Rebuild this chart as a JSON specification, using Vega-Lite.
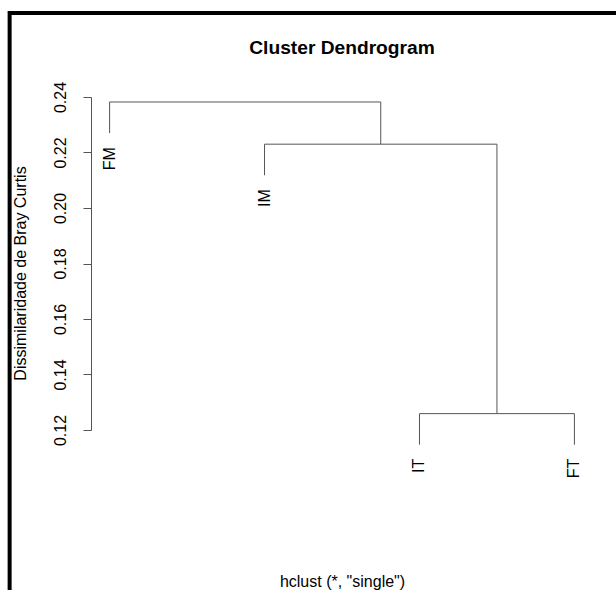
{
  "$schema": "https://vega.github.io/schema/vega-lite/v6.json",
  "autosize": {"type": "none"},
  "padding": {"left": 91, "top": 97, "right": 23, "bottom": 160},
  "width": 502,
  "height": 333,
  "background": "white",
  "title": {
    "text": "Cluster Dendrogram",
    "font": "Liberation Sans",
    "fontSize": 19.2,
    "fontWeight": "bold",
    "color": "black",
    "anchor": "middle",
    "frame": "group",
    "baseline": "alphabetic",
    "offset": -62
  },
  "datasets": {
    "segments": [
      {"x": 1, "x2": 1, "y": 0.2270, "y2": 0.2382},
      {"x": 1, "x2": 2.75, "y": 0.2382, "y2": 0.2382},
      {"x": 2.75, "x2": 2.75, "y": 0.2230, "y2": 0.2382},
      {"x": 2, "x2": 3.5, "y": 0.2230, "y2": 0.2230},
      {"x": 2, "x2": 2, "y": 0.2118, "y2": 0.2230},
      {"x": 3.5, "x2": 3.5, "y": 0.1259, "y2": 0.2230},
      {"x": 3, "x2": 4, "y": 0.1259, "y2": 0.1259},
      {"x": 3, "x2": 3, "y": 0.1147, "y2": 0.1259},
      {"x": 4, "x2": 4, "y": 0.1147, "y2": 0.1259}
    ],
    "leaves": [
      {"label": "FM", "x": 1, "y": 0.2270},
      {"label": "IM", "x": 2, "y": 0.2118},
      {"label": "IT", "x": 3, "y": 0.1147},
      {"label": "FT", "x": 4, "y": 0.1147}
    ]
  },
  "layer": [
    {
      "data": {"name": "segments"},
      "mark": {"type": "rule", "color": "#555", "strokeWidth": 1, "clip": false},
      "encoding": {
        "x": {
          "field": "x", "type": "quantitative",
          "scale": {"domain": [0.88, 4.12], "nice": false, "zero": false},
          "axis": {
            "domain": false, "ticks": false, "labels": false, "grid": false,
            "title": "hclust (*, \"single\")",
            "titleFont": "Liberation Sans", "titleFontSize": 16, "titleFontWeight": "normal",
            "titleColor": "black", "titleX": 251, "titleY": 156,
            "titleAlign": "center", "titleBaseline": "alphabetic"
          }
        },
        "x2": {"field": "x2"},
        "y": {
          "field": "y", "type": "quantitative",
          "scale": {"domain": [0.12, 0.24], "nice": false, "zero": false},
          "axis": {
            "values": [0.12, 0.14, 0.16, 0.18, 0.2, 0.22, 0.24],
            "format": ".2f",
            "domain": true, "domainColor": "#555", "domainWidth": 1, "grid": false,
            "tickSize": 8, "tickColor": "#555", "tickWidth": 1,
            "labelAngle": 270, "labelAlign": "center", "labelBaseline": "alphabetic",
            "labelPadding": 18, "labelFont": "Liberation Sans", "labelFontSize": 16,
            "labelColor": "black", "labelOverlap": false, "labelFlush": false,
            "title": "Dissimilaridade de Bray Curtis",
            "titleFont": "Liberation Sans", "titleFontSize": 16, "titleFontWeight": "normal",
            "titleColor": "black", "titleAngle": 270, "titleX": -66, "titleY": 176,
            "titleAlign": "center", "titleBaseline": "alphabetic"
          }
        },
        "y2": {"field": "y2"}
      }
    },
    {
      "data": {"name": "leaves"},
      "mark": {
        "type": "text", "angle": 270, "align": "right", "baseline": "middle",
        "dx": -14, "font": "Liberation Sans", "fontSize": 16, "color": "black", "clip": false
      },
      "encoding": {
        "x": {"field": "x", "type": "quantitative"},
        "y": {"field": "y", "type": "quantitative"},
        "text": {"field": "label"}
      }
    },
    {
      "data": {"values": [{}]},
      "mark": {"type": "rect", "filled": false, "stroke": "black", "strokeWidth": 4, "clip": false},
      "encoding": {
        "x": {"datum": 0.3548, "type": "quantitative"},
        "x2": {"datum": 6},
        "y": {"datum": 0.27027, "type": "quantitative"},
        "y2": {"datum": 0.0}
      }
    }
  ],
  "config": {"view": {"stroke": null}}
}
